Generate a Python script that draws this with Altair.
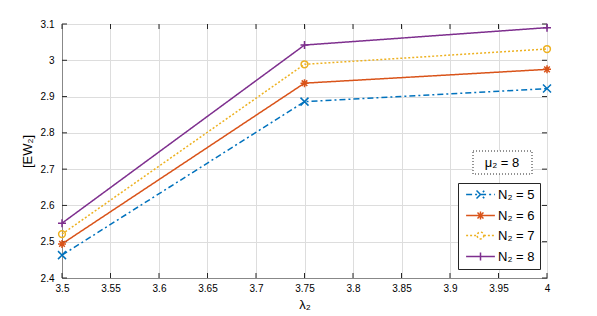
import altair as alt
import pandas as pd

# ---- data ----
lambda2 = [3.5, 3.75, 4.0]
n2_5 = [2.463, 2.886, 2.922]
n2_6 = [2.494, 2.937, 2.975]
n2_7 = [2.521, 2.989, 3.031]
n2_8 = [2.551, 3.042, 3.090]
series_labels = ["N₂ = 5", "N₂ = 6", "N₂ = 7", "N₂ = 8"]
x_ticks = [3.5, 3.55, 3.6, 3.65, 3.7, 3.75, 3.8, 3.85, 3.9, 3.95, 4.0]
y_ticks = [2.4, 2.5, 2.6, 2.7, 2.8, 2.9, 3.0, 3.1]
annotation = ["μ₂ = 8"]

colors = ["#0072BD", "#D95319", "#EDB120", "#7E2F8E"]
dashes = [[6, 3, 2, 3], [1, 0], [2, 2], [1, 0]]
marker_paths = [
    "M-1,-1L1,1M-1,1L1,-1",
    "M-1,0H1M0,-1V1M-0.7,-0.7L0.7,0.7M-0.7,0.7L0.7,-0.7",
    "M0.85,0A0.85,0.85 0 1,1 -0.85,0A0.85,0.85 0 1,1 0.85,0",
    "M-1,0H1M0,-1V1",
]
legend_paths = [
    "M-3.6,0H3.6M-1,-1L1,1M-1,1L1,-1",
    "M-3.6,0H3.6M0,-1V1M-0.75,-0.75L0.75,0.75M-0.75,0.75L0.75,-0.75",
    "M-3.6,0H-0.85M0.85,0H3.6M0.85,0A0.85,0.85 0 1,1 -0.85,0A0.85,0.85 0 1,1 0.85,0",
    "M-3.6,0H3.6M0,-1V1",
]

rows = []
for lab, vals in zip(series_labels, [n2_5, n2_6, n2_7, n2_8]):
    for xv, yv in zip(lambda2, vals):
        rows.append({"lambda": xv, "ew": yv, "series": lab})
df = pd.DataFrame(rows)
xt = pd.DataFrame({"lambda": x_ticks})
yt = pd.DataFrame({"ew": y_ticks})
ann = pd.DataFrame({"label": annotation})

W, H = 485, 254
FONT = "Liberation Sans"
AXC = "#262626"

xscale = alt.Scale(domain=[3.5, 4.0], nice=False, zero=False)
yscale = alt.Scale(domain=[2.4, 3.1], nice=False, zero=False)
cscale = alt.Scale(domain=series_labels, range=colors)
dscale = alt.Scale(domain=series_labels, range=dashes)

xaxis = alt.Axis(values=x_ticks, format=".3~g", ticks=False, labelPadding=5,
                 labelOverlap=False, labelFlush=False, labelBound=False,
                 titlePadding=5, titleFontSize=13, titleFontWeight="normal")
yaxis = alt.Axis(values=y_ticks, format=".3~g", ticks=False, labelPadding=8,
                 labelOverlap=False, labelFlush=False, labelBound=False,
                 titlePadding=6, titleFontSize=13, titleFontWeight="normal")
X = alt.X("lambda:Q", scale=xscale, title="λ₂", axis=xaxis)
Y = alt.Y("ew:Q", scale=yscale, title="[EW₂]", axis=yaxis)

legend_layer = alt.Chart(df).mark_point(filled=False, opacity=0, size=64, strokeWidth=1.5).encode(
    x=X, y=Y,
    color=alt.Color("series:N", scale=cscale, legend=alt.Legend(
        title=None, orient="none", legendX=396, legendY=159,
        strokeColor=AXC, fillColor="white", padding=5, rowPadding=6,
        labelFont=FONT, labelFontSize=13, labelColor="black",
        symbolSize=64, symbolStrokeWidth=1.5, symbolOffset=11, labelOffset=11,
        symbolOpacity=1)),
    shape=alt.Shape("series:N", scale=alt.Scale(domain=series_labels, range=legend_paths)),
    strokeDash=alt.StrokeDash("series:N", scale=dscale),
)

lines = alt.Chart(df).mark_line(strokeWidth=1.5).encode(
    x=X, y=Y,
    color=alt.Color("series:N", scale=cscale),
    strokeDash=alt.StrokeDash("series:N", scale=dscale),
)

point_layers = []
for lab, path in zip(series_labels, marker_paths):
    point_layers.append(
        alt.Chart(df).transform_filter(alt.datum.series == lab)
        .mark_point(shape=path, filled=False, size=64, strokeWidth=1.5, opacity=1)
        .encode(x=X, y=Y, color=alt.Color("series:N", scale=cscale))
    )

tick_style = dict(color=AXC, strokeWidth=1)
xt_bottom = alt.Chart(xt).mark_rule(**tick_style).encode(
    x=X, y=alt.value(H), y2=alt.value(H - 5))
xt_top = alt.Chart(xt).mark_rule(**tick_style).encode(
    x=X, y=alt.value(0), y2=alt.value(5))
yt_left = alt.Chart(yt).mark_rule(**tick_style).encode(
    y=Y, x=alt.value(0), x2=alt.value(5))
yt_right = alt.Chart(yt).mark_rule(**tick_style).encode(
    y=Y, x=alt.value(W), x2=alt.value(W - 5))

ann_box = alt.Chart(ann).mark_rect(fill="white", stroke=AXC, strokeDash=[1, 2], strokeWidth=1).encode(
    x=alt.value(411), x2=alt.value(470), y=alt.value(127), y2=alt.value(150))
ann_text = alt.Chart(ann).mark_text(font=FONT, fontSize=13, color="black", align="center",
                                    baseline="middle").encode(
    x=alt.value(440), y=alt.value(139), text="label:N")

chart = alt.layer(
    legend_layer, xt_bottom, xt_top, yt_left, yt_right, lines, *point_layers, ann_box, ann_text
).properties(
    width=W, height=H,
    autosize=alt.AutoSizeParams(type="none"),
    padding={"left": 54, "top": 16, "right": 40, "bottom": 38},
).configure_view(
    stroke=AXC, strokeWidth=1
).configure_axis(
    labelFont=FONT, titleFont=FONT, labelFontSize=10, labelColor=AXC, titleColor="black",
    domainColor=AXC, gridColor="#e3e3e3", gridWidth=1, grid=True,
).configure(background="white")

chart.save("out.html", embed_options={"renderer": "svg", "actions": False})
